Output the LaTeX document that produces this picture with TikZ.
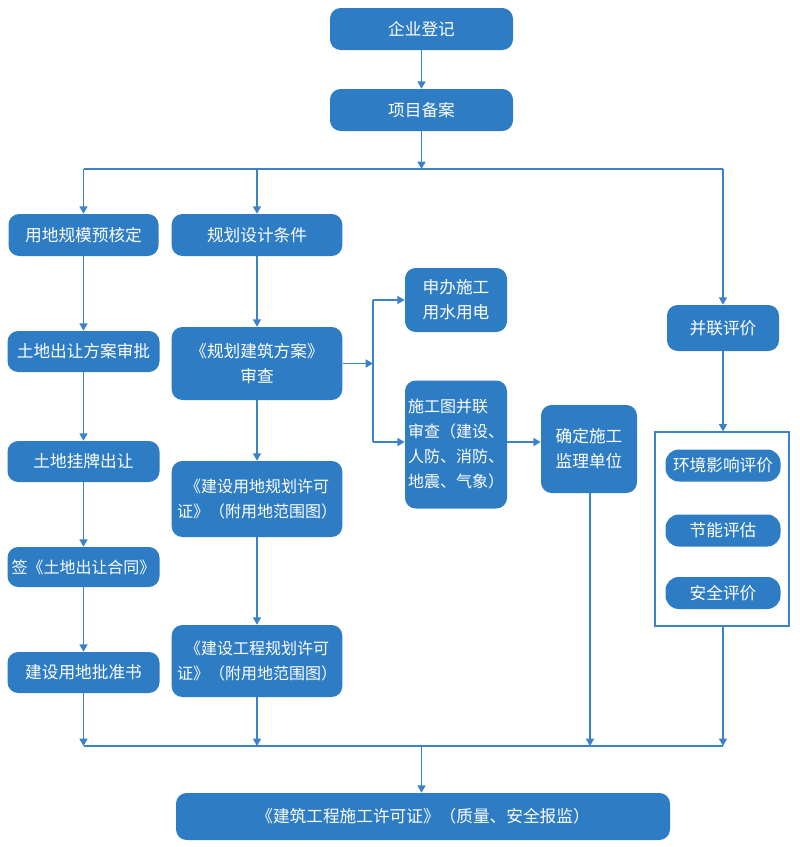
\documentclass[tikz,border=0pt]{standalone}
\usepackage{fontspec}
\setmainfont{Noto Sans CJK SC}
\usetikzlibrary{arrows.meta,calc}
\definecolor{boxblue}{RGB}{46,125,196}
\definecolor{lineblue}{RGB}{60,130,202}
\begin{document}
\begin{tikzpicture}[x=0.75pt,y=-0.75pt,
  box/.style={rectangle, rounded corners=8pt, fill=boxblue, text=white,
    font=\fontsize{12.5}{18.75}\selectfont, align=center, inner sep=0pt},
  small/.style={font=\fontsize{12}{18.75}\selectfont},
  pill/.style={box, rounded corners=10pt, minimum width=86.25pt, minimum height=24pt},
  conn/.style={draw=lineblue, line width=1.1pt},
  arr/.style={conn, -{Triangle[width=6pt,length=5.5pt]}},
  frame/.style={draw=lineblue, line width=0.8pt, fill=white}
]
\useasboundingbox (0,0) rectangle (800,847);

% top
\node[box, minimum width=137.25pt, minimum height=31.5pt] (qiye) at (421.5,29) {企业登记};
\node[box, minimum width=137.25pt, minimum height=31.5pt] (xiangmu) at (421.5,110) {项目备案};

% left column
\node[box, minimum width=112.5pt, minimum height=31.5pt] (yongdi) at (83.5,235) {用地规模预核定};
\node[box, minimum width=114pt, minimum height=30.75pt] (tudi) at (83.5,351.5) {土地出让方案审批};
\node[box, minimum width=114pt, minimum height=30.75pt] (guapai) at (83.5,461.5) {土地挂牌出让};
\node[box, small, minimum width=114pt, minimum height=30pt] (qian) at (83.5,567) {签《土地出让合同》};
\node[box, minimum width=114pt, minimum height=30.75pt] (pizhun) at (83.5,672.5) {建设用地批准书};

% middle column
\node[box, minimum width=128pt, minimum height=31.5pt] (guihua) at (257,235) {规划设计条件};
\node[box, minimum width=128pt, minimum height=54.75pt] (fangan) at (257,363.5) {《规划建筑方案》\\审查};
\node[box, small, minimum width=128pt, minimum height=57pt] (ydxk) at (257,499) {《建设用地规划许可\\证》（附用地范围图）};
\node[box, small, minimum width=128pt, minimum height=54pt] (gcxk) at (257,661) {《建设工程规划许可\\证》（附用地范围图）};

% branch
\node[box, minimum width=76.5pt, minimum height=48pt] (shenban) at (456,300) {申办施工\\用水用电};
\node[box, font=\fontsize{12}{18.75}\selectfont, align=left, minimum width=76.5pt, minimum height=96pt] (shigongtu) at (456,444.5) {施工图并联\\审查（建设、\\人防、消防、\\地震、气象）};
\node[box, minimum width=72pt, minimum height=66pt] (queding) at (589,449) {确定施工\\监理单位};

% right column
\node[box, minimum width=84pt, minimum height=34.5pt] (binglian) at (723,328) {并联评价};
\node[frame, minimum width=100.5pt, minimum height=145.5pt, inner sep=0pt] (group) at (722,529) {};
\node[pill] (huanjing) at (723,465.5) {环境影响评价};
\node[pill] (jieneng) at (723,530.5) {节能评估};
\node[pill] (anquan) at (723,593) {安全评价};

% bottom
\node[box, minimum width=370.5pt, minimum height=35.25pt] (final) at (423,816.5) {《建筑工程施工许可证》（质量、安全报监）};

% junction coordinates
\coordinate (split) at (421.5,169);
\coordinate (sL) at (83.5,169);
\coordinate (sM) at (257,169);
\coordinate (sR) at (723,169);
\coordinate (fork) at (373,363.5);
\coordinate (forkT) at (373,300);
\coordinate (forkB) at (373,442);
\coordinate (mL) at (83.5,746);
\coordinate (mM) at (257,746);
\coordinate (mQ) at (590,746);
\coordinate (mR) at (723,746);
\coordinate (merge) at (421.5,746);

% connectors
\draw[arr] (qiye) -- (xiangmu);
\draw[arr] (xiangmu) -- (split);
\draw[conn] (sL) -- (sR);
\draw[arr] (sL) -- (yongdi);
\draw[arr] (sM) -- (guihua);
\draw[arr] (sR) -- (binglian);

\draw[arr] (yongdi) -- (tudi);
\draw[arr] (tudi) -- (guapai);
\draw[arr] (guapai) -- (qian);
\draw[arr] (qian) -- (pizhun);

\draw[arr] (guihua) -- (fangan);
\draw[arr] (fangan) -- (ydxk);
\draw[arr] (ydxk) -- (gcxk);

\draw[arr] (fangan.east) -- (fork);
\draw[conn] (forkT) -- (forkB);
\draw[arr] (forkT) -- (shenban.west);
\draw[arr] (forkB) -- (forkB -| shigongtu.west);
\draw[arr] (shigongtu.east |- forkB) -- (forkB -| queding.west);

\draw[arr] (binglian.south) -- (binglian.south |- group.north);

\draw[conn] (mL) -- (mR);
\draw[arr] (pizhun) -- (mL);
\draw[arr] (gcxk) -- (mM);
\draw[arr] (queding.south -| mQ) -- (mQ);
\draw[arr] (group.south -| mR) -- (mR);
\draw[arr] (merge) -- (merge |- final.north);
\end{tikzpicture}
\end{document}
